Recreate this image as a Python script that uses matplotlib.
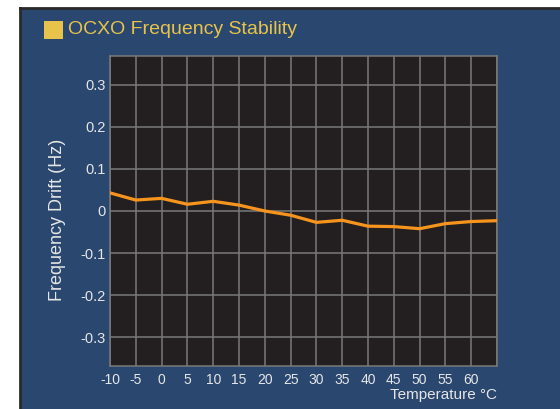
import matplotlib
matplotlib.use("Agg")
import matplotlib.pyplot as plt
from matplotlib.patches import Rectangle

# data
temps = [-10, -5, 0, 5, 10, 15, 20, 25, 30, 35, 40, 45, 50, 55, 60, 65]
drift = [0.043, 0.026, 0.030, 0.016, 0.023, 0.014, 0.0, -0.010,
         -0.027, -0.022, -0.036, -0.037, -0.042, -0.030, -0.025, -0.023]
x_ticks = [-10, -5, 0, 5, 10, 15, 20, 25, 30, 35, 40, 45, 50, 55, 60]
y_ticks = [-0.3, -0.2, -0.1, 0, 0.1, 0.2, 0.3]
y_labels = ["-0.3", "-0.2", "-0.1", "0", "0.1", "0.2", "0.3"]

W, H = 560, 409
PANEL = "#29476f"
TXT = "#e6e6e6"

plt.rcParams['font.family'] = ['Liberation Sans', 'DejaVu Sans']

fig = plt.figure(figsize=(W / 100, H / 100), dpi=100)
fig.patch.set_facecolor("white")

# blue panel with a dark edge on top and left
fig.patches.append(Rectangle((20 / W, 0), 540 / W, (H - 9) / H,
                             transform=fig.transFigure, facecolor=PANEL,
                             edgecolor="none", zorder=-5))
fig.lines.append(plt.Line2D([20 / W, 20 / W], [0, (H - 8) / H],
                            transform=fig.transFigure, color="#2a2a2a", lw=2,
                            zorder=-4))
fig.lines.append(plt.Line2D([20 / W, 1], [(H - 8) / H, (H - 8) / H],
                            transform=fig.transFigure, color="#2a2a2a", lw=2,
                            zorder=-4))

# title with yellow square
fig.patches.append(Rectangle((44 / W, 1 - 39 / H), 19 / W, 18 / H,
                             transform=fig.transFigure, facecolor="#e8c34b",
                             edgecolor="none", zorder=-3))
fig.text(68 / W, 1 - 30 / H, "OCXO Frequency Stability", color="#e8c34b",
         fontsize=14, va="center", ha="left")

ax = fig.add_axes([110 / W, 1 - 366 / H, 387 / W, 310 / H])
ax.set_zorder(2)
ax.set_facecolor("#231f20")
ax.plot(temps, drift, color="#f7941d", lw=2.3, solid_joinstyle="round", zorder=3)

ax.set_xlim(-10, 65)
ax.set_ylim(-0.368, 0.368)
ax.set_xticks(temps)
ax.set_xticklabels([str(t) for t in x_ticks] + [""])
ax.set_yticks(y_ticks)
ax.set_yticklabels(y_labels)
ax.grid(True, color="#7a7a7a", lw=1.1)
ax.set_axisbelow(True)
ax.tick_params(length=0, colors=TXT, labelsize=10)
ax.tick_params(axis="y", labelsize=10.5, pad=3)
ax.tick_params(axis="x", pad=5)
for s in ax.spines.values():
    s.set_color("#7a7a7a")
    s.set_linewidth(1.1)

fig.text(57 / W, 1 - 220 / H, "Frequency Drift (Hz)", rotation=90,
         color=TXT, fontsize=13, ha="center", va="center")
fig.text(497 / W, 1 - 395 / H, "Temperature °C", color=TXT,
         fontsize=11, ha="right", va="center")

fig.savefig("out.png", dpi=100, facecolor=fig.get_facecolor())
